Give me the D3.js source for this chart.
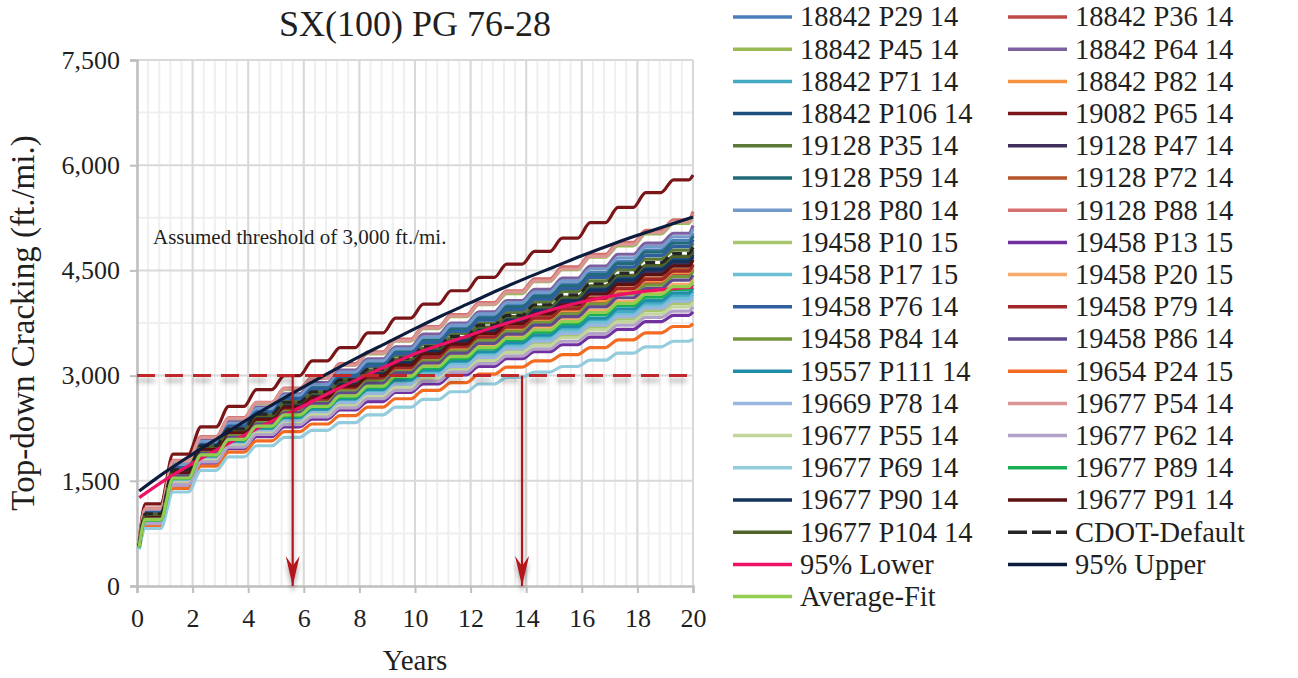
<!DOCTYPE html>
<html>
<head>
<meta charset="utf-8">
<title>SX(100) PG 76-28</title>
<script src="https://d3js.org/d3.v7.min.js"></script>
<style>
  body { margin: 0; background: #fff; }
  text { font-family: "Liberation Serif", "Times New Roman", serif; fill: #1f1f1f; }
</style>
</head>
<body>
<svg id="chart"></svg>
<script>
// time points (years): first month, then start/end of each yearly plateau, last month
var years = [0.08,
  0.3, 0.85, 1.3, 1.85, 2.3, 2.85, 3.3, 3.85, 4.3, 4.85,
  5.3, 5.85, 6.3, 6.85, 7.3, 7.85, 8.3, 8.85, 9.3, 9.85,
  10.3, 10.85, 11.3, 11.85, 12.3, 12.85, 13.3, 13.85, 14.3, 14.85,
  15.3, 15.85, 16.3, 16.85, 17.3, 17.85, 18.3, 18.85, 19.3, 19.85,
  20];

// cracking (ft./mi.): first month, plateau level of years 0..19, last month
var seriesNames = [
  "18842 P29 14", "18842 P36 14", "18842 P45 14", "18842 P64 14",
  "18842 P71 14", "18842 P82 14", "18842 P106 14", "19082 P65 14",
  "19128 P35 14", "19128 P47 14", "19128 P59 14", "19128 P72 14",
  "19128 P80 14", "19128 P88 14", "19458 P10 15", "19458 P13 15",
  "19458 P17 15", "19458 P20 15", "19458 P76 14", "19458 P79 14",
  "19458 P84 14", "19458 P86 14", "19557 P111 14", "19654 P24 15",
  "19669 P78 14", "19677 P54 14", "19677 P55 14", "19677 P62 14",
  "19677 P69 14", "19677 P89 14", "19677 P90 14", "19677 P91 14",
  "19677 P104 14", "CDOT-Default"
];

var seriesValues = [
  [590,1060,1710,2050,2300,2510,2700,2850,3030,3190,3360,3520,3680,3840,4000,4150,4310,4470,4630,4790,4930,5030],
  [560,980,1590,1910,2150,2340,2510,2640,2790,2940,3080,3230,3380,3520,3650,3780,3910,4050,4190,4320,4440,4520],
  [600,1100,1780,2120,2380,2600,2800,2960,3150,3310,3490,3670,3840,4010,4170,4340,4510,4690,4850,5020,5170,5290],
  [590,1080,1740,2080,2340,2550,2740,2900,3080,3240,3410,3590,3750,3910,4070,4230,4390,4560,4730,4890,5030,5140],
  [550,930,1510,1830,2050,2230,2380,2510,2650,2780,2910,3050,3180,3320,3440,3550,3660,3790,3910,4030,4140,4200],
  [560,980,1590,1920,2160,2350,2520,2650,2800,2950,3100,3250,3390,3540,3670,3800,3930,4070,4210,4350,4470,4550],
  [570,1020,1650,1980,2220,2420,2600,2740,2900,3050,3210,3370,3520,3670,3820,3950,4100,4250,4390,4540,4670,4760],
  [640,1170,1880,2270,2560,2800,3000,3210,3400,3610,3820,4020,4210,4400,4590,4770,4960,5180,5400,5610,5790,5860],
  [580,1040,1680,2010,2260,2470,2650,2790,2960,3120,3280,3440,3600,3750,3900,4050,4200,4350,4510,4660,4790,4890],
  [570,1010,1630,1960,2200,2400,2570,2710,2870,3020,3170,3330,3470,3620,3770,3900,4040,4190,4330,4470,4600,4690],
  [580,1060,1700,2040,2290,2500,2690,2840,3010,3170,3340,3500,3660,3820,3980,4130,4280,4440,4600,4760,4890,4990],
  [570,990,1610,1930,2170,2370,2530,2670,2830,2970,3120,3270,3420,3560,3700,3840,3970,4110,4250,4390,4510,4590],
  [590,1070,1730,2060,2320,2530,2720,2870,3050,3210,3380,3550,3720,3880,4040,4190,4350,4520,4680,4840,4980,5090],
  [600,1110,1790,2130,2400,2620,2820,2980,3170,3340,3520,3700,3870,4040,4210,4380,4550,4730,4900,5070,5220,5340],
  [540,910,1480,1800,2010,2190,2340,2460,2590,2720,2850,2980,3110,3240,3360,3460,3570,3690,3810,3930,4030,4080],
  [540,880,1440,1750,1960,2130,2270,2380,2510,2630,2760,2880,3010,3130,3240,3340,3440,3550,3660,3770,3860,3910],
  [550,920,1500,1820,2040,2220,2370,2490,2620,2760,2890,3020,3160,3290,3410,3520,3630,3750,3870,3990,4100,4160],
  [560,960,1550,1880,2100,2290,2450,2580,2730,2860,3010,3150,3290,3430,3560,3680,3800,3930,4060,4190,4300,4380],
  [580,1050,1690,2020,2280,2480,2670,2810,2990,3140,3310,3470,3630,3790,3940,4090,4240,4400,4550,4710,4840,4940],
  [570,990,1600,1930,2160,2360,2530,2660,2820,2960,3110,3260,3410,3550,3690,3820,3950,4100,4240,4370,4490,4580],
  [560,970,1580,1900,2140,2330,2490,2620,2780,2920,3060,3210,3350,3500,3630,3760,3880,4020,4160,4290,4410,4490],
  [560,970,1570,1890,2120,2310,2470,2600,2750,2890,3040,3180,3320,3460,3590,3720,3840,3980,4110,4240,4360,4430],
  [550,940,1520,1840,2060,2250,2400,2520,2670,2800,2940,3080,3210,3340,3470,3580,3700,3820,3950,4070,4180,4250],
  [530,860,1390,1710,1910,2070,2200,2310,2430,2550,2670,2790,2900,3020,3120,3210,3300,3400,3510,3610,3700,3740],
  [550,920,1490,1810,2020,2200,2350,2470,2610,2740,2870,3000,3130,3260,3380,3490,3600,3720,3840,3960,4060,4120],
  [600,1100,1780,2120,2390,2610,2810,2960,3150,3320,3500,3680,3850,4020,4190,4350,4520,4700,4870,5040,5190,5300],
  [540,900,1470,1790,2000,2180,2320,2440,2570,2700,2830,2960,3080,3210,3330,3430,3540,3650,3770,3880,3980,4040],
  [540,890,1450,1770,1980,2160,2300,2410,2540,2670,2790,2920,3050,3170,3280,3380,3490,3600,3720,3830,3920,3980],
  [520,820,1340,1650,1840,2000,2120,2220,2330,2440,2550,2660,2770,2880,2975,3050,3130,3220,3320,3410,3490,3520],
  [550,940,1530,1860,2080,2270,2420,2550,2690,2830,2970,3110,3240,3380,3510,3620,3740,3870,4000,4120,4230,4300],
  [570,1010,1640,1970,2210,2410,2580,2720,2880,3030,3190,3350,3500,3650,3790,3930,4070,4220,4360,4510,4630,4720],
  [570,1000,1620,1950,2190,2380,2550,2690,2850,3000,3150,3310,3450,3600,3740,3880,4010,4160,4300,4440,4560,4650],
  [580,1020,1660,1990,2230,2430,2610,2750,2920,3070,3230,3390,3540,3690,3840,3980,4120,4280,4430,4570,4700,4790],
  [580,1030,1660,2000,2240,2450,2620,2770,2940,3090,3250,3410,3560,3720,3860,4010,4150,4310,4460,4610,4740,4830]
];

var seriesColors = [
  "#4a7ebb", "#be4b48", "#98b954", "#7d60a0", "#46aac5", "#f69240", "#1c4f7c", "#7a1518",
  "#5a7a35", "#3f2f5a", "#216a78", "#b4552a", "#729aca", "#d4706d", "#a9c56f", "#7030a0",
  "#6bc0d6", "#f8a96a", "#2f5f9e", "#a0282a", "#76963a", "#5f4a8b", "#1f8ea8", "#f26b21",
  "#98b6de", "#d99694", "#c3d69b", "#b3a2c7", "#93cddd", "#1aaf54", "#13325c", "#5c1010",
  "#4f6228", "#262626"
];

var averageFit = [560,950,1540,1870,2090,2280,2440,2560,2710,2850,2990,3130,3270,3400,3530,3650,3770,3900,4030,4160,4270,4340];

// 95% bounds (smooth)
var boundYears = [0.08, 1, 2, 3, 4, 5, 6, 7, 8, 9, 10, 11, 12, 13, 14, 15, 16, 17, 18, 19, 20];
var lower95 = [1260,1510,1750,1970,2180,2380,2570,2770,2960,3140,3310,3450,3580,3710,3830,3950,4050,4130,4190,4230,4260];
var upper95 = [1355,1620,1880,2130,2380,2615,2840,3060,3270,3470,3670,3860,4040,4220,4390,4550,4710,4860,5000,5130,5260];

var threshold = 3000;
var crossYears = [5.6, 13.85];
var xTicks = [0, 2, 4, 6, 8, 10, 12, 14, 16, 18, 20];
var yTicks = [0, 1500, 3000, 4500, 6000, 7500];

var width = 1298, height = 678;
var margin = { top: 60, left: 137, right: 605, bottom: 92 };

var svg = d3.select("#chart")
  .attr("width", width)
  .attr("height", height);

var x = d3.scaleLinear().domain([0, 20]).range([margin.left, width - margin.right]);
var y = d3.scaleLinear().domain([0, 7500]).range([height - margin.bottom, margin.top]);

var defs = svg.append("defs");
var shadow = defs.append("filter").attr("id", "shadow")
  .attr("x", "-20%").attr("y", "-20%").attr("width", "140%").attr("height", "160%");
shadow.append("feDropShadow")
  .attr("dx", 0).attr("dy", 5).attr("stdDeviation", 2.5)
  .attr("flood-color", "#000").attr("flood-opacity", 0.35);

defs.append("marker")
  .attr("id", "head")
  .attr("viewBox", "0 0 30 14")
  .attr("refX", 30).attr("refY", 7)
  .attr("markerWidth", 30).attr("markerHeight", 14)
  .attr("markerUnits", "userSpaceOnUse")
  .attr("orient", "auto")
  .append("path")
  .attr("d", "M30,7 L0,0 L10,7 L0,14 Z")
  .attr("fill", "#b3191f");

// grid
var grid = svg.append("g");
grid.selectAll(".vminor").data(d3.range(0, 20.001, 0.4))
  .enter().append("line")
  .attr("x1", function(d) { return x(d); }).attr("x2", function(d) { return x(d); })
  .attr("y1", y(0)).attr("y2", y(7500))
  .attr("stroke", "#efefef").attr("stroke-width", 2);
grid.selectAll(".hminor").data(d3.range(750, 7500, 1500))
  .enter().append("line")
  .attr("x1", x(0)).attr("x2", x(20))
  .attr("y1", function(d) { return y(d); }).attr("y2", function(d) { return y(d); })
  .attr("stroke", "#efefef").attr("stroke-width", 2);
grid.selectAll(".vmajor").data(xTicks.slice(1))
  .enter().append("line")
  .attr("x1", function(d) { return x(d); }).attr("x2", function(d) { return x(d); })
  .attr("y1", y(0)).attr("y2", y(7500))
  .attr("stroke", "#d9d9d9").attr("stroke-width", 2);
grid.selectAll(".hmajor").data(yTicks.slice(1))
  .enter().append("line")
  .attr("x1", x(0)).attr("x2", x(20))
  .attr("y1", function(d) { return y(d); }).attr("y2", function(d) { return y(d); })
  .attr("stroke", "#d9d9d9").attr("stroke-width", 2);

// axes
var xAxis = svg.append("g")
  .attr("transform", "translate(0," + y(0) + ")")
  .call(d3.axisBottom(x).tickValues(xTicks).tickSize(7).tickPadding(16).tickFormat(d3.format("d")));
var yAxis = svg.append("g")
  .attr("transform", "translate(" + x(0) + ",0)")
  .call(d3.axisLeft(y).tickValues(yTicks).tickSize(7).tickPadding(10).tickFormat(d3.format(",")));
[xAxis, yAxis].forEach(function(ax) {
  ax.selectAll("path.domain").attr("stroke", "#bfbfbf").attr("stroke-width", 2.5);
  ax.selectAll(".tick line").attr("stroke", "#bfbfbf").attr("stroke-width", 2);
  ax.selectAll(".tick text")
    .style("font-family", "'Liberation Serif', serif")
    .style("font-size", "26px").attr("fill", "#1f1f1f");
});

// series
function toPoints(vals) {
  var pts = [[years[0], vals[0]]];
  for (var j = 0; j < 20; j++) {
    pts.push([years[1 + 2 * j], vals[j + 1]]);
    pts.push([years[2 + 2 * j], vals[j + 1]]);
  }
  pts.push([years[years.length - 1], vals[vals.length - 1]]);
  return pts;
}

var line = d3.line()
  .x(function(d) { return x(d[0]); })
  .y(function(d) { return y(d[1]); })
  .curve(d3.curveMonotoneX);

var plot = svg.append("g");
seriesValues.forEach(function(vals, i) {
  plot.append("path")
    .attr("d", line(toPoints(vals)))
    .attr("fill", "none")
    .attr("stroke", seriesColors[i])
    .attr("stroke-width", 3.2)
    .attr("stroke-linejoin", "round")
    .attr("stroke-dasharray", seriesNames[i] === "CDOT-Default" ? "10,5" : null);
});

plot.append("path")
  .attr("d", line(boundYears.map(function(t, i) { return [t, lower95[i]]; })))
  .attr("fill", "none").attr("stroke", "#ee1166").attr("stroke-width", 3.2);
plot.append("path")
  .attr("d", line(boundYears.map(function(t, i) { return [t, upper95[i]]; })))
  .attr("fill", "none").attr("stroke", "#0b1c3d").attr("stroke-width", 3.2);
plot.append("path")
  .attr("d", line(toPoints(averageFit)))
  .attr("fill", "none").attr("stroke", "#92cd50").attr("stroke-width", 3.2);

// threshold and arrows
var annot = svg.append("g").attr("filter", "url(#shadow)");
annot.append("line")
  .attr("x1", x(0)).attr("x2", x(20))
  .attr("y1", y(threshold)).attr("y2", y(threshold))
  .attr("stroke", "#c0262c").attr("stroke-width", 3)
  .attr("stroke-dasharray", "18,10");
annot.selectAll(".arrow").data(crossYears)
  .enter().append("line")
  .attr("x1", function(d) { return x(d); }).attr("x2", function(d) { return x(d); })
  .attr("y1", y(threshold)).attr("y2", y(0))
  .attr("stroke", "#b3191f").attr("stroke-width", 2.2)
  .attr("marker-end", "url(#head)");

svg.append("text")
  .attr("x", x(0) + 16).attr("y", 244)
  .style("font-size", "21px")
  .text("Assumed threshold of 3,000 ft./mi.");

// titles
svg.append("text")
  .attr("x", (x(0) + x(20)) / 2).attr("y", 36)
  .attr("text-anchor", "middle")
  .style("font-size", "36px")
  .text("SX(100) PG 76-28");
svg.append("text")
  .attr("x", (x(0) + x(20)) / 2).attr("y", 670)
  .attr("text-anchor", "middle")
  .style("font-size", "29px")
  .text("Years");
svg.append("text")
  .attr("transform", "translate(34," + (y(3750)) + ") rotate(-90)")
  .attr("text-anchor", "middle")
  .style("font-size", "33px")
  .text("Top-down Cracking (ft./mi.)");

// legend
var legendItems = seriesNames.map(function(n, i) {
  return { name: n, color: seriesColors[i], dash: n === "CDOT-Default" };
});
legendItems.push({ name: "95% Lower", color: "#ee1166" });
legendItems.push({ name: "95% Upper", color: "#0b1c3d" });
legendItems.push({ name: "Average-Fit", color: "#92cd50" });

var legend = svg.append("g").attr("transform", "translate(733,17)");
var item = legend.selectAll("g").data(legendItems).enter().append("g")
  .attr("transform", function(d, i) {
    return "translate(" + (i % 2) * 275 + "," + Math.floor(i / 2) * 32.2 + ")";
  });
item.append("line")
  .attr("x1", 0).attr("x2", 59).attr("y1", 0).attr("y2", 0)
  .attr("stroke", function(d) { return d.color; })
  .attr("stroke-width", 3.5)
  .attr("stroke-dasharray", function(d) { return d.dash ? "19,5" : null; });
item.append("text")
  .attr("x", 67).attr("y", 0)
  .attr("dy", "0.33em")
  .style("font-size", "28.5px")
  .text(function(d) { return d.name; });
</script>
</body>
</html>
